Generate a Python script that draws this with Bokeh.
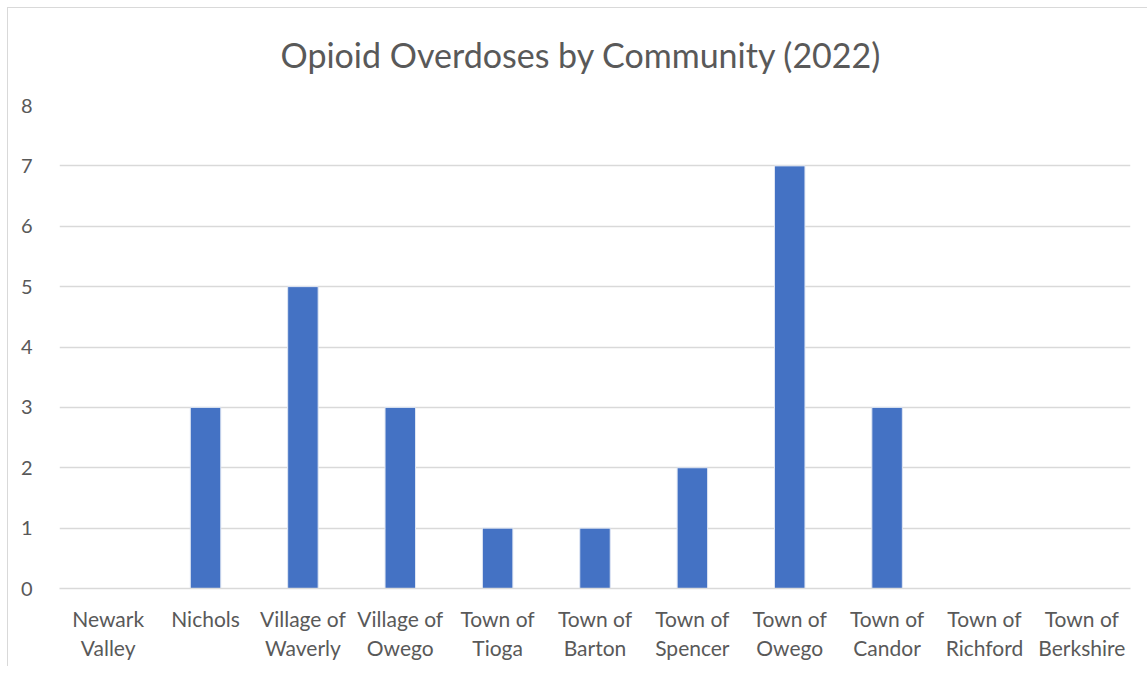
from bokeh.plotting import figure
from bokeh.models import ColumnDataSource, CategoricalAxis, CustomJSTickFormatter
from bokeh.embed import file_html
from bokeh.resources import INLINE

title_text = "Opioid Overdoses by Community (2022)"
categories = ["Newark Valley", "Nichols", "Village of Waverly", "Village of Owego",
              "Town of Tioga", "Town of Barton", "Town of Spencer", "Town of Owego",
              "Town of Candor", "Town of Richford", "Town of Berkshire"]
label_line1 = ["Newark", "Nichols", "Village of", "Village of", "Town of", "Town of",
               "Town of", "Town of", "Town of", "Town of", "Town of"]
label_line2 = ["Valley", "", "Waverly", "Owego", "Tioga", "Barton", "Spencer",
               "Owego", "Candor", "Richford", "Berkshire"]
overdoses = [0, 3, 5, 3, 1, 1, 2, 7, 3, 0, 0]
y_ticks = [0, 1, 2, 3, 4, 5, 6, 7, 8]

p = figure(x_range=categories, y_range=(0, 8),
           frame_width=1071, frame_height=483,
           output_backend="svg", toolbar_location=None,
           title=title_text,
           min_border_left=59, min_border_right=17, min_border_top=105, min_border_bottom=78)
p.border_fill_color = None
p.background_fill_color = None
p.styles = {"box-shadow": "inset 7px 7px 0px 0px #ffffff, inset 8px 8px 0px 0px #d9d9d9"}

src = ColumnDataSource(dict(cat=categories, val=overdoses))
p.vbar(x="cat", top="val", width=0.313, source=src, fill_color="#4472C4",
       line_color="#dfe6f3", line_width=1)

p.title.text_font = "Lato"
p.title.text_font_style = "normal"
p.title.text_font_size = "34px"
p.title.text_color = "#595959"
p.title.align = "left"
p.title.offset = 221
p.title.standoff = 61

p.outline_line_color = None
p.xgrid.grid_line_color = None
p.ygrid.grid_line_color = "#d9d9d9"
p.ygrid.grid_line_width = 1.5
p.yaxis.ticker = y_ticks
p.yaxis.axis_line_color = None
p.yaxis.major_tick_line_color = None
p.yaxis.minor_tick_line_color = None
p.yaxis.major_label_text_font = "Lato"
p.yaxis.major_label_text_font_size = "20px"
p.yaxis.major_label_text_color = "#595959"
p.yaxis.major_label_standoff = 21

fmt_code = "return names[factors.indexOf(tick)];"

xa = p.xaxis[0]
xa.axis_line_color = "#d9d9d9"
xa.axis_line_width = 1.5
xa.major_tick_line_color = None
xa.minor_tick_line_color = None
xa.formatter = CustomJSTickFormatter(args=dict(factors=categories, names=label_line1),
                                     code=fmt_code)
xa.major_label_text_font = "Lato"
xa.major_label_text_font_size = "21px"
xa.major_label_text_color = "#595959"
xa.major_label_standoff = 11

xa2 = CategoricalAxis(axis_line_color=None, major_tick_line_color=None,
                      minor_tick_line_color=None,
                      formatter=CustomJSTickFormatter(args=dict(factors=categories, names=label_line2),
                                                      code=fmt_code),
                      major_label_text_font="Lato", major_label_text_font_size="21px",
                      major_label_text_color="#595959", major_label_standoff=-5)
p.add_layout(xa2, "below")

open("out.html", "w").write(file_html(p, INLINE))
